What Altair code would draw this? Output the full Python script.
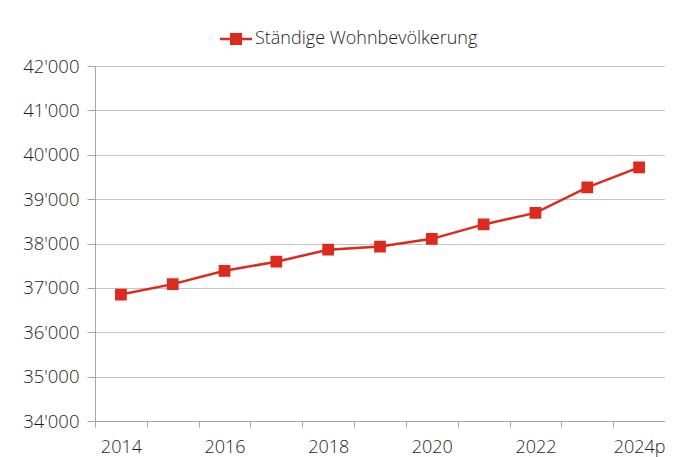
import altair as alt
import pandas as pd

years = ["2014", "2015", "2016", "2017", "2018", "2019", "2020", "2021", "2022", "2023", "2024p"]
population = [36850, 37085, 37385, 37590, 37860, 37930, 38105, 38430, 38690, 39265, 39715]
series_name = "Ständige Wohnbevölkerung"
y_ticks = [34000, 35000, 36000, 37000, 38000, 39000, 40000, 41000, 42000]

df = pd.DataFrame({"year": years, "value": population, "series": series_name})

RED = "#dc2a1f"
FONT = "Open Sans"
TEXT = "#1e1e1e"

chart = alt.Chart(df).mark_line(
    color=RED, strokeWidth=2.5,
    point=alt.OverlayMarkDef(shape="square", size=95, filled=True, color=RED, opacity=1),
).encode(
    x=alt.X(
        "year:O", sort=years, bandPosition=0.5,
        scale=alt.Scale(type="band", domain=years, paddingInner=0, paddingOuter=0),
        axis=alt.Axis(
            title=None, tickBand="extent", labelAngle=0, grid=False,
            labelExpr="parseInt(datum.label) % 2 == 0 ? datum.label : ''",
            domainColor="#a6a6a6", tickColor="#a6a6a6", tickSize=6, labelPadding=11,
        ),
    ),
    y=alt.Y(
        "value:Q",
        scale=alt.Scale(domain=[34000, 42000], nice=False, zero=False),
        axis=alt.Axis(
            title=None, values=y_ticks,
            labelExpr="replace(format(datum.value, ','), ',', \"'\")",
            gridColor="#c4c4c4", domainColor="#a6a6a6", tickColor="#a6a6a6",
            tickSize=8, labelPadding=8, labelFontSize=18.5,
        ),
    ),
    stroke=alt.Stroke(
        "series:N",
        scale=alt.Scale(domain=[series_name], range=[RED]),
        legend=alt.Legend(
            title=None, orient="none", legendX=132, legendY=-36,
            symbolType="M-2,-0.15H2V0.15H-2ZM-0.75,-0.75H0.75V0.75H-0.75Z",
            symbolSize=256, symbolFillColor=RED, symbolStrokeColor=RED,
            symbolStrokeWidth=0, symbolOpacity=1, labelOffset=10, labelLimit=0,
            labelFont=FONT, labelFontSize=18, labelColor=TEXT, labelFontWeight=300,
        ),
    ),
).properties(
    width=570, height=355,
    autosize=alt.AutoSizeParams(type="none"),
    padding={"left": 87, "top": 58, "right": 0, "bottom": 36},
).configure_view(stroke=None).configure_axis(
    labelFont=FONT, labelFontSize=18, labelColor=TEXT, labelFontWeight=300,
    domainWidth=1, tickWidth=1,
)

chart.save("out.html", embed_options={"renderer": "svg", "actions": False})
